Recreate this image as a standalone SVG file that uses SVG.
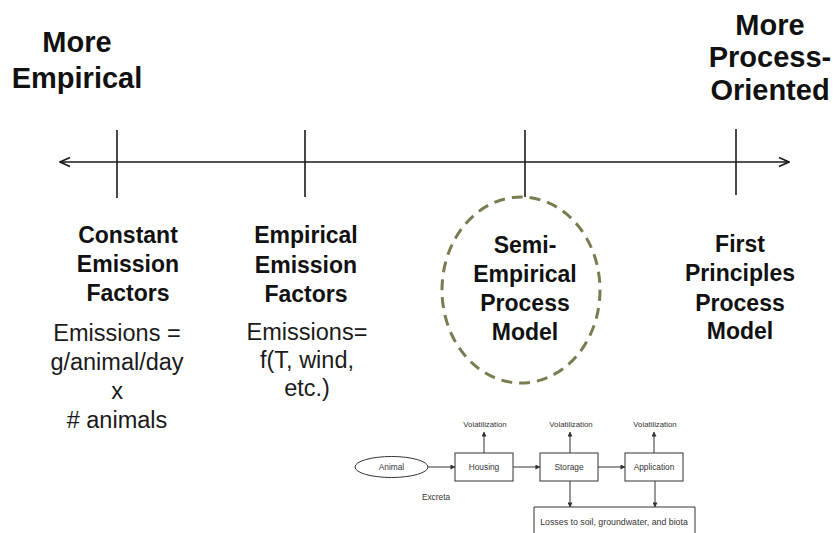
<svg xmlns="http://www.w3.org/2000/svg" width="837" height="533" viewBox="0 0 837 533">
<defs>
<style>
.b{font-family:"Liberation Sans",Arial,sans-serif;font-weight:bold;fill:#111;text-anchor:middle}
.big{font-size:29px}
.mid{font-size:23px}
.r{font-family:"Liberation Sans",Arial,sans-serif;font-size:23.5px;fill:#1a1a1a;text-anchor:middle}
.s{font-family:"Liberation Sans",Arial,sans-serif;font-size:8.3px;fill:#333;text-anchor:middle}
.axis{stroke:#1a1a1a;stroke-width:1.6;fill:none}
.fl{stroke:#333;stroke-width:1;fill:#fff}
.fa{stroke:#333;stroke-width:1;fill:none;marker-end:url(#sa)}
</style>
<marker id="ch" viewBox="0 0 12 12" refX="11" refY="6" markerWidth="12" markerHeight="12" markerUnits="userSpaceOnUse" orient="auto-start-reverse">
<path d="M1,1.5 L11,6 L1,10.5" fill="none" stroke="#1a1a1a" stroke-width="1.6"/>
</marker>
<marker id="sa" viewBox="0 0 6 6" refX="5.5" refY="3" markerWidth="5" markerHeight="5" markerUnits="userSpaceOnUse" orient="auto">
<path d="M0,0 L6,3 L0,6 Z" fill="#333"/>
</marker>
</defs>

<g id="connectors">
<line class="axis" x1="60" y1="162" x2="789" y2="162" marker-start="url(#ch)" marker-end="url(#ch)"/>
<line class="axis" x1="117" y1="130" x2="117" y2="198"/>
<line class="axis" x1="305" y1="130" x2="305" y2="197"/>
<line class="axis" x1="525" y1="130" x2="525" y2="197"/>
<line class="axis" x1="736" y1="129" x2="736" y2="195"/>
</g>

<g id="label-more-empirical">
<text class="b big" x="77" y="52">More</text>
<text class="b big" x="77" y="88">Empirical</text>
</g>

<g id="label-more-process">
<text class="b big" x="770" y="35">More</text>
<text class="b big" x="770" y="67">Process-</text>
<text class="b big" x="770" y="100">Oriented</text>
</g>

<g id="node-constant">
<text class="b mid" x="128" y="243">Constant</text>
<text class="b mid" x="128" y="272">Emission</text>
<text class="b mid" x="128" y="301">Factors</text>
<text class="r" x="117" y="341">Emissions =</text>
<text class="r" x="117" y="370">g/animal/day</text>
<text class="r" x="117" y="399">x</text>
<text class="r" x="117" y="428">#  animals</text>
</g>

<g id="node-empirical">
<text class="b mid" x="306" y="243">Empirical</text>
<text class="b mid" x="306" y="273">Emission</text>
<text class="b mid" x="306" y="302">Factors</text>
<text class="r" x="307" y="340">Emissions=</text>
<text class="r" x="307" y="368">f(T, wind,</text>
<text class="r" x="307" y="396">etc.)</text>
</g>

<g id="node-semi">
<ellipse cx="521" cy="290" rx="79" ry="93" fill="none" stroke="#7b7b52" stroke-width="3" stroke-dasharray="11 7"/>
<text class="b mid" x="525" y="253">Semi-</text>
<text class="b mid" x="525" y="282">Empirical</text>
<text class="b mid" x="525" y="311">Process</text>
<text class="b mid" x="525" y="340">Model</text>
</g>

<g id="node-first">
<text class="b mid" x="740" y="252">First</text>
<text class="b mid" x="740" y="281">Principles</text>
<text class="b mid" x="740" y="311">Process</text>
<text class="b mid" x="740" y="339">Model</text>
</g>

<g id="flow-diagram">
<g id="flow-connectors">
<line class="fa" x1="428" y1="467" x2="455" y2="467"/>
<line class="fa" x1="513" y1="467" x2="540" y2="467"/>
<line class="fa" x1="598" y1="467" x2="625" y2="467"/>
<line class="fa" x1="484" y1="453" x2="484" y2="432"/>
<line class="fa" x1="570" y1="453" x2="570" y2="432"/>
<line class="fa" x1="654" y1="453" x2="654" y2="432"/>
<line class="fa" x1="570" y1="481" x2="570" y2="507"/>
<line class="fa" x1="655" y1="481" x2="655" y2="507"/>
</g>
<g id="flow-animal">
<ellipse class="fl" cx="391.5" cy="467" rx="36.5" ry="10.5"/>
<text class="s" x="391.5" y="470">Animal</text>
</g>
<g id="flow-housing">
<rect class="fl" x="455" y="453" width="58" height="28"/>
<text class="s" x="484" y="470">Housing</text>
</g>
<g id="flow-storage">
<rect class="fl" x="540" y="453" width="58" height="28"/>
<text class="s" x="569" y="470">Storage</text>
</g>
<g id="flow-application">
<rect class="fl" x="625" y="453" width="58" height="28"/>
<text class="s" x="654" y="470">Application</text>
</g>
<g id="flow-losses">
<path class="fl" d="M534,534 V507 H695 V534"/>
<text class="s" x="614" y="525" style="font-size:8.8px">Losses to soil, groundwater, and biota</text>
</g>
<g id="flow-labels">
<text class="s" x="485" y="427" style="font-size:7.8px">Volatilization</text>
<text class="s" x="571" y="427" style="font-size:7.8px">Volatilization</text>
<text class="s" x="655" y="427" style="font-size:7.8px">Volatilization</text>
<text class="s" x="436" y="500">Excreta</text>
</g>
</g>
</svg>
